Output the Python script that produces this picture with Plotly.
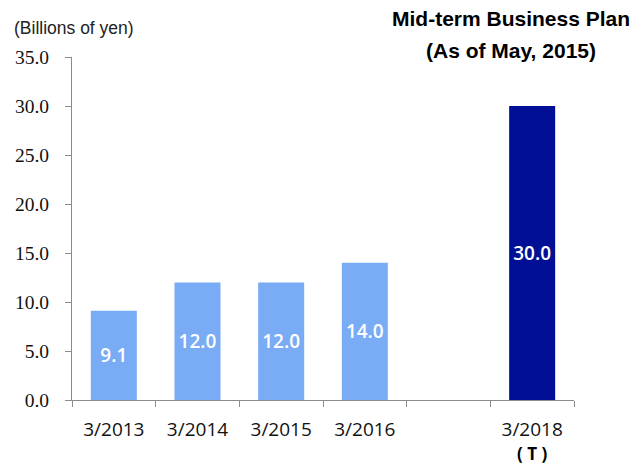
import plotly.graph_objects as go

# Fiscal years (the empty slot separates actuals from the plan target)
categories = ["3/2013", "3/2014", "3/2015", "3/2016", " ", "3/2018"]
values = [9.1, 12.0, 12.0, 14.0, None, 30.0]
bar_colors = ["#7aabf5", "#7aabf5", "#7aabf5", "#7aabf5", "#7aabf5", "#000f96"]
value_labels = ["9.1", "12.0", "12.0", "14.0", "", "30.0"]
y_ticks = [0, 5, 10, 15, 20, 25, 30, 35]

fig = go.Figure(
    go.Bar(
        x=categories,
        y=values,
        marker=dict(color=bar_colors, line=dict(width=0)),
        width=0.55,
        text=value_labels,
        textposition="inside",
        insidetextanchor="middle",
        textangle=0,
        textfont=dict(family="Open Sans", size=19, color="white", weight=600),
    )
)

fig.update_layout(
    width=635,
    height=467,
    margin=dict(l=72, r=61, t=57, b=67),
    plot_bgcolor="white",
    paper_bgcolor="white",
    showlegend=False,
    uniformtext=dict(minsize=8, mode="show"),
    annotations=[
        dict(
            text="(Billions of yen)",
            xref="paper", yref="paper",
            x=-0.1195, y=1.0845, xanchor="left", yanchor="middle",
            showarrow=False,
            font=dict(family="Liberation Sans", size=17.5, color="#222222"),
        ),
        dict(
            text="<b>Mid-term Business Plan</b>",
            xref="paper", yref="paper",
            x=0.8745, y=1.1137, xanchor="center", yanchor="middle",
            showarrow=False,
            font=dict(family="Liberation Sans", size=21, color="black"),
        ),
        dict(
            text="<b>(As of May, 2015)</b>",
            xref="paper", yref="paper",
            x=0.8745, y=1.0175, xanchor="center", yanchor="middle",
            showarrow=False,
            font=dict(family="Liberation Sans", size=21, color="black"),
        ),
        dict(
            text="<b>( T )</b>",
            xref="x", yref="paper",
            x="3/2018", y=-0.157, xanchor="center", yanchor="middle",
            showarrow=False, borderpad=0,
            font=dict(family="Open Sans", size=17, color="black"),
        ),
    ],
)

fig.update_xaxes(
    type="category",
    range=[-0.5, 5.5],
    showline=True,
    linecolor="#8c8c8c",
    linewidth=1,
    ticks="outside",
    tickson="boundaries",
    ticklen=6,
    tickcolor="#8c8c8c",
    showgrid=False,
    ticklabelstandoff=12,
    tickfont=dict(family="Open Sans", size=19, color="#111111"),
)

fig.update_yaxes(
    range=[0, 35],
    tickvals=y_ticks,
    ticktext=[f"{v:.1f}" for v in y_ticks],
    showline=True,
    linecolor="#8c8c8c",
    linewidth=1,
    ticks="outside",
    ticklen=6,
    tickcolor="#8c8c8c",
    showgrid=False,
    zeroline=False,
    ticklabelstandoff=12,
    tickfont=dict(family="Liberation Serif", size=19.5, color="#111111"),
)

fig.write_html("out.html")
